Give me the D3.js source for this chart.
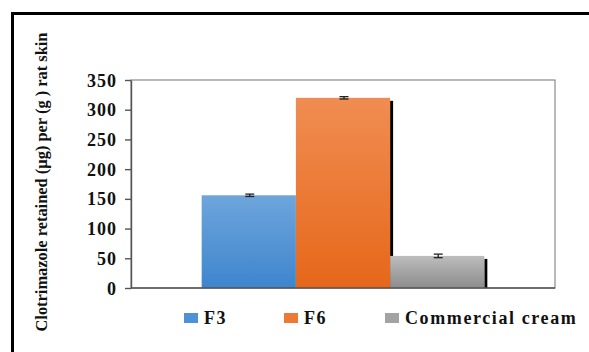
<!DOCTYPE html>
<html>
<head>
<meta charset="utf-8">
<script src="https://cdn.jsdelivr.net/npm/d3@7"></script>
<style>
  html, body { margin: 0; padding: 0; background: #fff; }
  svg { display: block; }
</style>
</head>
<body>
<svg id="chart" width="589" height="352"></svg>
<script>
// Retention of clotrimazole in rat skin per formulation
const series = ["F3", "F6", "Commercial cream"];
const values = [156, 320, 54];
const errors = [2, 2, 3];
const yTicks = [0, 50, 100, 150, 200, 250, 300, 350];
const yTitle = "Clotrimazole retained (µg) per (g ) rat skin";

const colors = {
  "F3": ["#6ea5dc", "#3e85cd", "#4f91d6"],
  "F6": ["#f08d52", "#e6671a", "#ed7a34"],
  "Commercial cream": ["#bdbdbd", "#8c8c8c", "#a3a3a3"]
};
const SERIF = "'Liberation Serif', 'Times New Roman', serif";

const svg = d3.select("#chart");
const plot = { left: 131, right: 555, top: 80, bottom: 288 };

// Outer frame (runs off the right and bottom edges)
svg.append("rect")
  .attr("x", 12.5).attr("y", 13.5)
  .attr("width", 700).attr("height", 500)
  .attr("fill", "none").attr("stroke", "#000").attr("stroke-width", 3);

const y = d3.scaleLinear().domain([0, 350]).range([plot.bottom, plot.top]);
const outer = d3.scaleBand().domain(["all"]).range([plot.left, plot.right])
  .paddingOuter(0.25).paddingInner(0);
const x = d3.scaleBand().domain(series)
  .range([outer("all"), outer("all") + outer.bandwidth()]).padding(0);

// Gradients for the bars
const defs = svg.append("defs");
series.forEach((s, i) => {
  const g = defs.append("linearGradient").attr("id", "grad" + i)
    .attr("x1", 0).attr("y1", 0).attr("x2", 0).attr("y2", 1);
  g.append("stop").attr("offset", "0%").attr("stop-color", colors[s][0]);
  g.append("stop").attr("offset", "100%").attr("stop-color", colors[s][1]);
});

// Plot frame
svg.append("rect")
  .attr("x", plot.left).attr("y", plot.top)
  .attr("width", plot.right - plot.left).attr("height", plot.bottom - plot.top)
  .attr("fill", "none").attr("stroke", "#8a8a8a").attr("stroke-width", 1.2);

// Bars with a dark edge shadow on the right side
const barG = svg.append("g");
series.forEach((s, i) => {
  const x0 = x(s), w = x.bandwidth();
  barG.append("rect")
    .attr("x", x0 + w).attr("y", y(values[i]) + 3)
    .attr("width", 3).attr("height", y(0) - y(values[i]) - 3)
    .attr("fill", "#000");
  barG.append("rect")
    .attr("x", x0).attr("y", y(values[i]))
    .attr("width", w).attr("height", y(0) - y(values[i]))
    .attr("fill", `url(#grad${i})`);
});

// Error bars
const errG = svg.append("g").attr("stroke", "#222").attr("stroke-width", 1.3);
series.forEach((s, i) => {
  const cx = x(s) + x.bandwidth() / 2 + 1;
  const hi = y(values[i] + errors[i]), lo = y(values[i] - errors[i]);
  errG.append("line").attr("x1", cx).attr("x2", cx).attr("y1", hi).attr("y2", lo);
  errG.append("line").attr("x1", cx - 4.5).attr("x2", cx + 4.5).attr("y1", hi).attr("y2", hi);
  errG.append("line").attr("x1", cx - 4.5).attr("x2", cx + 4.5).attr("y1", lo).attr("y2", lo);
});

// Baseline
svg.append("line")
  .attr("x1", plot.left).attr("x2", plot.right)
  .attr("y1", y(0)).attr("y2", y(0))
  .attr("stroke", "#555").attr("stroke-width", 1.4);

// Y axis
const yAxis = svg.append("g")
  .attr("transform", `translate(${plot.left},0)`)
  .call(d3.axisLeft(y).tickValues(yTicks).tickSize(6).tickPadding(8).tickSizeOuter(0));
yAxis.attr("font-family", null).attr("font-size", null);
yAxis.select(".domain").attr("stroke", "#555").attr("stroke-width", 1.4);
yAxis.selectAll(".tick line").attr("stroke", "#555").attr("stroke-width", 1.4);
yAxis.selectAll(".tick text")
  .style("font-family", SERIF)
  .style("font-weight", "bold")
  .style("font-size", "18px")
  .style("letter-spacing", "1px")
  .attr("dy", "0.34em")
  .attr("fill", "#111");

// Y axis title
svg.append("text")
  .attr("transform", "translate(47,182) rotate(-90)")
  .attr("text-anchor", "middle")
  .attr("textLength", 299)
  .attr("lengthAdjust", "spacingAndGlyphs")
  .style("font-family", SERIF)
  .style("font-weight", "bold")
  .style("font-size", "17px")
  .attr("fill", "#111")
  .text(yTitle);

// Legend
const legendX = [184, 284, 385];
const legend = svg.append("g");
series.forEach((s, i) => {
  legend.append("rect")
    .attr("x", legendX[i]).attr("y", 313)
    .attr("width", 14).attr("height", 10)
    .attr("fill", colors[s][2]);
  legend.append("text")
    .attr("x", legendX[i] + 20).attr("y", 324)
    .style("font-family", SERIF)
    .style("font-weight", "bold")
    .style("font-size", "18px")
    .style("letter-spacing", "1.6px")
    .attr("fill", "#111")
    .text(s);
});
</script>
</body>
</html>
